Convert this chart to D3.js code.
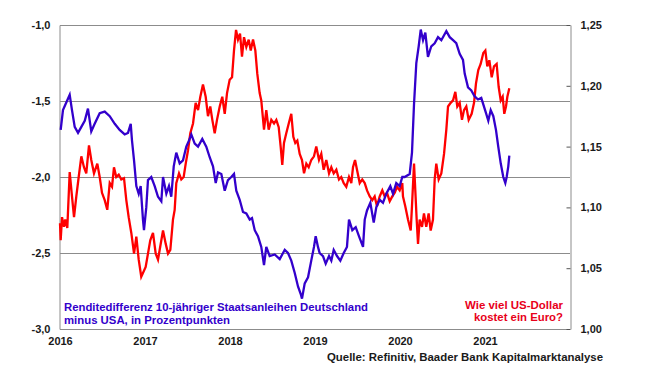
<!DOCTYPE html>
<html><head><meta charset="utf-8">
<script src="https://cdn.jsdelivr.net/npm/d3@7"></script>
<style>
html,body{margin:0;padding:0;background:#fff;}
svg{display:block;font-family:"Liberation Sans",Arial,sans-serif;font-weight:bold;}
</style></head>
<body>
<svg id="c" width="669" height="379"></svg>
<script>
// ---- data (decimal years) ----
const years = [2016, 2017, 2018, 2019, 2020, 2021];
const leftTicks = [-1.0, -1.5, -2.0, -2.5, -3.0];
const rightTicks = [1.00, 1.05, 1.10, 1.15, 1.20, 1.25];

// Renditedifferenz 10J Deutschland minus USA (Prozentpunkte), linke Achse
const spreadT = [2016.008,2016.035,2016.074,2016.114,2016.141,2016.173,2016.212,2016.251,2016.291,2016.329,
2016.368,2016.408,2016.467,2016.526,2016.585,2016.644,2016.702,2016.761,2016.800,2016.832,
2016.847,2016.871,2016.898,2016.926,2016.949,2016.976,2016.988,
2017.015,2017.035,2017.074,2017.114,2017.153,2017.192,2017.212,2017.251,2017.282,2017.309,
2017.338,2017.368,2017.408,2017.447,2017.486,2017.518,2017.545,2017.585,2017.624,2017.674,
2017.721,2017.761,2017.800,2017.832,2017.859,2017.898,2017.938,2017.976,
2018.015,2018.047,2018.074,2018.114,2018.153,2018.192,2018.232,2018.259,2018.291,2018.329,
2018.368,2018.400,2018.427,2018.467,2018.526,2018.585,2018.624,2018.644,2018.682,2018.721,
2018.761,2018.800,2018.832,2018.847,2018.879,2018.918,2018.956,2018.988,
2019.008,2019.035,2019.055,2019.094,2019.126,2019.165,2019.192,2019.220,2019.259,2019.298,
2019.338,2019.376,2019.400,2019.439,2019.479,2019.518,2019.565,2019.585,2019.612,2019.651,
2019.691,2019.721,2019.761,2019.800,2019.839,2019.886,2019.918,2019.956,2019.996,
2020.027,2020.055,2020.114,2020.141,2020.165,2020.192,2020.220,2020.244,2020.271,2020.298,
2020.329,2020.368,2020.408,2020.447,2020.486,2020.545,2020.585,2020.624,2020.662,2020.702,
2020.741,2020.761,2020.800,2020.839,2020.879,2020.918,2020.956,
2021.012,2021.039,2021.067,2021.098,2021.129,2021.156,2021.185,2021.215,2021.239,2021.255,
2021.274,2021.286];
const spreadV = [-1.69,-1.56,-1.51,-1.46,-1.56,-1.67,-1.71,-1.67,-1.63,-1.55,
-1.70,-1.65,-1.58,-1.57,-1.60,-1.65,-1.69,-1.72,-1.71,-1.65,
-1.76,-1.89,-2.06,-2.11,-2.06,-2.28,-2.35,
-2.20,-2.02,-2.00,-2.06,-2.13,-2.16,-2.00,-2.11,-2.06,-2.13,
-1.93,-1.84,-1.91,-1.89,-1.80,-1.76,-1.72,-1.78,-1.80,-1.75,
-1.80,-1.87,-1.93,-2.04,-1.97,-1.98,-2.09,-2.02,
-2.00,-1.98,-2.09,-2.15,-2.23,-2.24,-2.28,-2.27,-2.35,-2.39,
-2.46,-2.58,-2.46,-2.52,-2.51,-2.54,-2.50,-2.48,-2.50,-2.55,
-2.63,-2.72,-2.77,-2.80,-2.70,-2.66,-2.55,-2.46,
-2.39,-2.46,-2.50,-2.52,-2.57,-2.52,-2.55,-2.48,-2.52,-2.55,
-2.50,-2.46,-2.28,-2.35,-2.33,-2.39,-2.46,-2.28,-2.22,-2.17,
-2.30,-2.20,-2.15,-2.17,-2.11,-2.06,-2.11,-2.04,-2.06,
-2.00,-2.00,-1.98,-1.84,-1.52,-1.25,-1.14,-1.03,-1.10,-1.05,
-1.21,-1.14,-1.12,-1.08,-1.10,-1.04,-1.08,-1.10,-1.12,-1.19,
-1.23,-1.32,-1.41,-1.43,-1.47,-1.49,-1.48,
-1.58,-1.63,-1.56,-1.60,-1.69,-1.80,-1.91,-2.00,-2.04,-2.00,
-1.93,-1.86];

// EUR/USD, rechte Achse
const usdT = [2016.000,2016.008,2016.024,2016.047,2016.062,2016.086,2016.114,2016.141,2016.165,2016.192,
2016.220,2016.251,2016.282,2016.309,2016.341,2016.368,2016.400,2016.439,2016.467,2016.494,
2016.526,2016.556,2016.585,2016.612,2016.635,2016.662,2016.691,2016.721,2016.753,2016.780,
2016.808,2016.839,2016.871,2016.898,2016.926,2016.956,2016.976,
2017.008,2017.035,2017.062,2017.094,2017.126,2017.153,2017.180,2017.212,2017.244,2017.271,
2017.298,2017.329,2017.349,2017.368,2017.400,2017.427,2017.455,2017.479,2017.506,2017.533,
2017.565,2017.596,2017.624,2017.651,2017.682,2017.714,2017.741,2017.768,2017.792,2017.820,
2017.847,2017.879,2017.909,2017.938,2017.965,2017.996,
2018.024,2018.047,2018.071,2018.094,2018.118,2018.141,2018.165,2018.192,2018.220,2018.244,
2018.271,2018.298,2018.321,2018.349,2018.368,2018.400,2018.427,2018.455,2018.486,2018.518,
2018.545,2018.573,2018.596,2018.615,2018.635,2018.662,2018.691,2018.721,2018.745,2018.768,
2018.792,2018.820,2018.847,2018.871,2018.898,2018.926,2018.956,2018.988,
2019.015,2019.047,2019.074,2019.102,2019.133,2019.165,2019.192,2019.220,2019.251,2019.282,
2019.309,2019.338,2019.368,2019.400,2019.427,2019.447,2019.471,2019.494,2019.526,2019.556,
2019.585,2019.612,2019.644,2019.674,2019.702,2019.729,2019.761,2019.792,2019.820,2019.847,
2019.879,2019.909,2019.938,2019.965,2019.996,
2020.027,2020.035,2020.062,2020.094,2020.126,2020.141,2020.165,2020.180,2020.196,2020.212,
2020.231,2020.259,2020.282,2020.309,2020.337,2020.361,2020.388,2020.408,2020.427,2020.455,
2020.486,2020.518,2020.545,2020.565,2020.596,2020.624,2020.651,2020.674,2020.702,2020.729,
2020.753,2020.780,2020.808,2020.843,2020.871,2020.894,2020.921,2020.949,2020.980,
2021.004,2021.027,2021.051,2021.079,2021.106,2021.137,2021.161,2021.185,2021.208,2021.227,
2021.247,2021.263,2021.286];
const usdV = [1.087,1.073,1.092,1.084,1.090,1.083,1.129,1.109,1.092,1.109,
1.125,1.142,1.133,1.128,1.151,1.139,1.128,1.136,1.125,1.112,
1.106,1.098,1.120,1.117,1.133,1.125,1.127,1.123,1.124,1.106,
1.092,1.079,1.062,1.076,1.057,1.043,1.046,
1.051,1.062,1.073,1.079,1.062,1.057,1.068,1.081,1.070,1.062,
1.065,1.090,1.098,1.120,1.128,1.123,1.125,1.136,1.147,1.161,
1.169,1.186,1.180,1.191,1.201,1.191,1.175,1.183,1.172,1.161,
1.172,1.183,1.191,1.177,1.194,1.205,
1.207,1.229,1.246,1.238,1.243,1.224,1.240,1.232,1.238,1.229,
1.238,1.229,1.210,1.194,1.188,1.164,1.180,1.164,1.172,1.169,
1.172,1.166,1.150,1.135,1.153,1.161,1.169,1.177,1.158,1.153,
1.155,1.144,1.139,1.128,1.136,1.133,1.139,1.142,
1.150,1.139,1.144,1.131,1.139,1.128,1.133,1.128,1.131,1.123,
1.125,1.120,1.117,1.125,1.120,1.133,1.139,1.131,1.120,1.123,
1.120,1.114,1.109,1.106,1.109,1.101,1.109,1.114,1.109,1.112,
1.105,1.109,1.112,1.117,1.114,
1.120,1.109,1.101,1.090,1.081,1.101,1.136,1.114,1.090,1.070,
1.090,1.084,1.095,1.084,1.095,1.081,1.090,1.123,1.136,1.123,
1.128,1.144,1.164,1.183,1.186,1.188,1.195,1.183,1.186,1.172,
1.180,1.183,1.172,1.177,1.186,1.202,1.213,1.218,1.227,
1.229,1.216,1.221,1.207,1.216,1.218,1.199,1.188,1.191,1.177,
1.183,1.191,1.198];

const blueLabel = ["Renditedifferenz 10-jähriger Staatsanleihen Deutschland", "minus USA, in Prozentpunkten"];
const redLabel = ["Wie viel US-Dollar", "kostet ein Euro?"];
const source = "Quelle: Refinitiv, Baader Bank Kapitalmarktanalyse";

// ---- layout ----
const L = 60, R = 570, T = 25, B = 329;
const BLUE = "#3300cc", RED = "#ff0000", GRID = "#8c8c8c", TXT = "#1a1a1a";
const svg = d3.select("#c");
const loc = d3.formatLocale({decimal: ",", thousands: ".", grouping: [3], currency: ["", "€"], minus: "-"});

const x = d3.scaleLinear().domain([2016, 2022]).range([L, R]);
const yL = d3.scaleLinear().domain([-3, -1]).range([B, T]);
const yR = d3.scaleLinear().domain([1.00, 1.25]).range([B, T]);

// grid lines at left ticks
svg.append("g").selectAll("line").data(leftTicks).join("line")
  .attr("x1", L).attr("x2", R)
  .attr("y1", d => Math.round(yL(d)) + 0.5).attr("y2", d => Math.round(yL(d)) + 0.5)
  .attr("stroke", GRID).attr("stroke-width", 1);

// left axis
const gl = svg.append("g").attr("transform", `translate(${L - 0.5},0)`)
  .call(d3.axisLeft(yL).tickValues(leftTicks).tickSize(0).tickPadding(9).tickFormat(loc.format(".1f")));
gl.select(".domain").attr("stroke", GRID);
gl.selectAll("text").attr("font-size", 11).attr("font-weight", "bold").attr("fill", TXT)
  .attr("font-family", "Liberation Sans, Arial, sans-serif");

// right axis
const gr = svg.append("g").attr("transform", `translate(${R + 0.5},0)`)
  .call(d3.axisRight(yR).tickValues(rightTicks).tickSizeInner(-4).tickSizeOuter(0).tickPadding(10).tickFormat(loc.format(".2f")));
gr.select(".domain").attr("stroke", GRID);
gr.selectAll("line").attr("stroke", "#555");
gr.selectAll("text").attr("font-size", 11).attr("font-weight", "bold").attr("fill", TXT)
  .attr("font-family", "Liberation Sans, Arial, sans-serif");

// bottom axis (year labels)
const gb = svg.append("g").attr("transform", `translate(0,${B + 0.5})`)
  .call(d3.axisBottom(x).tickValues(years).tickSize(0).tickPadding(8).tickFormat(d3.format("d")));
gb.select(".domain").remove();
gb.selectAll("text").attr("font-size", 11).attr("font-weight", "bold").attr("fill", TXT)
  .attr("font-family", "Liberation Sans, Arial, sans-serif");

// lines
const lineL = d3.line().x((d, i) => x(spreadT[i])).y(d => yL(d));
const lineR = d3.line().x((d, i) => x(usdT[i])).y(d => yR(d));
svg.append("path").datum(usdV).attr("d", lineR)
  .attr("fill", "none").attr("stroke", RED).attr("stroke-width", 2.3).attr("stroke-linejoin", "miter");
svg.append("path").datum(spreadV).attr("d", lineL)
  .attr("fill", "none").attr("stroke", BLUE).attr("stroke-width", 2.3).attr("stroke-linejoin", "miter");

// labels
const bl = svg.append("g").attr("font-size", 11.5).attr("fill", BLUE);
const blW = [304, 166];
blueLabel.forEach((s, i) => bl.append("text").attr("x", 64).attr("y", 311 + i * 12.5).text(s)
  .attr("textLength", blW[i]).attr("lengthAdjust", "spacingAndGlyphs"));
const rl = svg.append("g").attr("font-size", 11.5).attr("fill", "#e8001a").attr("text-anchor", "end");
const rlW = [98, 89];
redLabel.forEach((s, i) => rl.append("text").attr("x", 563).attr("y", 308.5 + i * 12.5).text(s)
  .attr("textLength", rlW[i]).attr("lengthAdjust", "spacingAndGlyphs"));

svg.append("text").attr("x", 603).attr("y", 360.5).attr("text-anchor", "end")
  .attr("font-size", 11.5).attr("fill", TXT).text(source)
  .attr("textLength", 276).attr("lengthAdjust", "spacingAndGlyphs");
</script>
</body></html>
